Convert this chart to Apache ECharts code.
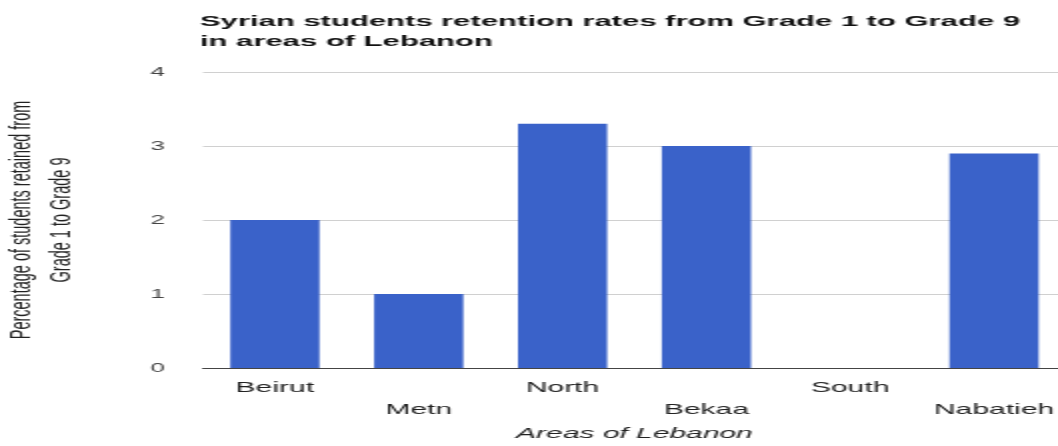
<!DOCTYPE html>
<html>
<head>
<meta charset="utf-8">
<script src="https://cdn.jsdelivr.net/npm/echarts@6/dist/echarts.min.js"></script>
<style>
  html, body { margin: 0; padding: 0; background: #fff; overflow: hidden; }
  #wrap { width: 1058px; height: 446px; overflow: hidden; }
  #chart { width: 529px; height: 446px; transform: scaleX(2); transform-origin: 0 0; }
</style>
</head>
<body>
<div id="wrap"><div id="chart"></div></div>
<script>
const categories = ['Beirut', 'Metn', 'North', 'Bekaa', 'South', 'Nabatieh'];
const retention = [2.0, 1.0, 3.3, 3.0, 0, 2.9];
const yTicks = [0, 1, 2, 3, 4];
const titleText = 'Syrian students retention rates from Grade 1 to Grade 9\nin areas of Lebanon';
const xTitle = 'Areas of Lebanon';
const yTitle = 'Percentage of students retained from\nGrade 1 to Grade 9';

const font = 'Liberation Sans, Arial, sans-serif';
const chart = echarts.init(document.getElementById('chart'));
chart.setOption({
  animation: false,
  title: {
    text: titleText,
    left: 95, top: 7,
    textStyle: { fontFamily: font, fontSize: 15.5, fontWeight: 'bold', color: '#111', lineHeight: 20 }
  },
  grid: { left: 101.5, right: -4, top: 72, bottom: 78, containLabel: false, outerBoundsMode: 'none' },
  xAxis: {
    type: 'category',
    data: categories,
    name: xTitle,
    nameLocation: 'middle',
    nameGap: 50,
    nameTextStyle: { fontFamily: font, fontSize: 15, fontStyle: 'italic', color: '#222' },
    axisTick: { show: false },
    axisLine: { lineStyle: { color: '#444', width: 1 } },
    axisLabel: {
      interval: 0,
      margin: 9,
      fontFamily: font, fontSize: 15, color: '#222', lineHeight: 22,
      formatter: (v, i) => (i % 2 ? '\n' + v : v)
    }
  },
  yAxis: {
    type: 'value',
    min: yTicks[0], max: yTicks[yTicks.length - 1], interval: 1,
    name: yTitle,
    nameLocation: 'middle',
    nameRotate: 90,
    nameGap: 61,
    nameTextStyle: { fontFamily: font, fontSize: 14.5, color: '#222', lineHeight: 20 },
    axisLine: { show: false },
    axisTick: { show: false },
    splitLine: { lineStyle: { color: '#d0d0d0', width: 1 } },
    axisLabel: { margin: 19, fontFamily: font, fontSize: 13, color: '#444' }
  },
  series: [{
    type: 'bar',
    data: retention,
    barCategoryGap: '38%',
    itemStyle: { color: '#3a62c9' }
  }]
});
</script>
</body>
</html>
